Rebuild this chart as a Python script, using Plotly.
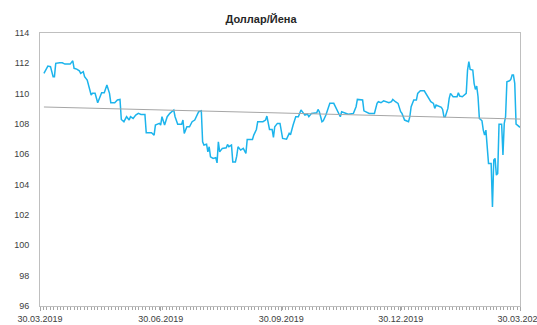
import numpy as np
import pandas as pd
import plotly.graph_objects as go

title = "Доллар/Йена"

dates = [
    "2019-04-02", "2019-04-04", "2019-04-05", "2019-04-07", "2019-04-09", "2019-04-10",
    "2019-04-11", "2019-04-14", "2019-04-16", "2019-04-18", "2019-04-22", "2019-04-24",
    "2019-04-25", "2019-04-27", "2019-04-29", "2019-04-30", "2019-05-02", "2019-05-03",
    "2019-05-05", "2019-05-07", "2019-05-08", "2019-05-09", "2019-05-11", "2019-05-13",
    "2019-05-14", "2019-05-16", "2019-05-18", "2019-05-20", "2019-05-22", "2019-05-23",
    "2019-05-26", "2019-05-28", "2019-05-30", "2019-05-31",
    "2019-06-02", "2019-06-04", "2019-06-06", "2019-06-07", "2019-06-09", "2019-06-11",
    "2019-06-13", "2019-06-15", "2019-06-18", "2019-06-19", "2019-06-23", "2019-06-25",
    "2019-06-26", "2019-06-29", "2019-06-30", "2019-07-01",
    "2019-07-03", "2019-07-05", "2019-07-07", "2019-07-09", "2019-07-10", "2019-07-11",
    "2019-07-13", "2019-07-16", "2019-07-17", "2019-07-18", "2019-07-20", "2019-07-22",
    "2019-07-24", "2019-07-26", "2019-07-28", "2019-07-29", "2019-07-31",
    "2019-08-01", "2019-08-02", "2019-08-04", "2019-08-05", "2019-08-06", "2019-08-07",
    "2019-08-09", "2019-08-11", "2019-08-12", "2019-08-13", "2019-08-14", "2019-08-16",
    "2019-08-19", "2019-08-20", "2019-08-21", "2019-08-23", "2019-08-24", "2019-08-26",
    "2019-08-27", "2019-08-28", "2019-08-30",
    "2019-09-01", "2019-09-03", "2019-09-04", "2019-09-08", "2019-09-09", "2019-09-11",
    "2019-09-12", "2019-09-16", "2019-09-18", "2019-09-19", "2019-09-21", "2019-09-23",
    "2019-09-24", "2019-09-25", "2019-09-27", "2019-09-29",
    "2019-10-01", "2019-10-04", "2019-10-06", "2019-10-07", "2019-10-09", "2019-10-11",
    "2019-10-13", "2019-10-15", "2019-10-17", "2019-10-18", "2019-10-20", "2019-10-21",
    "2019-10-23", "2019-10-27", "2019-10-28", "2019-10-29", "2019-10-31",
    "2019-11-01", "2019-11-03", "2019-11-05", "2019-11-06", "2019-11-09", "2019-11-10",
    "2019-11-12", "2019-11-14", "2019-11-15", "2019-11-17", "2019-11-20", "2019-11-24",
    "2019-11-26", "2019-11-27",
    "2019-12-01", "2019-12-02", "2019-12-04", "2019-12-06", "2019-12-10", "2019-12-12",
    "2019-12-13", "2019-12-15", "2019-12-17", "2019-12-19", "2019-12-21", "2019-12-23",
    "2019-12-24", "2019-12-26", "2019-12-28", "2019-12-30", "2019-12-31",
    "2020-01-02", "2020-01-05", "2020-01-06", "2020-01-07", "2020-01-09", "2020-01-11",
    "2020-01-12", "2020-01-14", "2020-01-17", "2020-01-20", "2020-01-22", "2020-01-24",
    "2020-01-25", "2020-01-26", "2020-01-29", "2020-01-30", "2020-01-31",
    "2020-02-01", "2020-02-02", "2020-02-04", "2020-02-05", "2020-02-06", "2020-02-08",
    "2020-02-11", "2020-02-12", "2020-02-13", "2020-02-15", "2020-02-17", "2020-02-18",
    "2020-02-19", "2020-02-20", "2020-02-21", "2020-02-23", "2020-02-24", "2020-02-25",
    "2020-02-26", "2020-02-27", "2020-02-28",
    "2020-03-01", "2020-03-02", "2020-03-03", "2020-03-04", "2020-03-05", "2020-03-06",
    "2020-03-08", "2020-03-09", "2020-03-10", "2020-03-11", "2020-03-12", "2020-03-13",
    "2020-03-14", "2020-03-16", "2020-03-17", "2020-03-18", "2020-03-19", "2020-03-20",
    "2020-03-22", "2020-03-23", "2020-03-24", "2020-03-25", "2020-03-26", "2020-03-27",
    "2020-03-28", "2020-03-29", "2020-03-30",
]

usd_jpy = [
    111.34, 111.74, 111.82, 111.78, 111.12, 111.12,
    112.00, 112.04, 112.04, 111.95, 111.95, 112.17,
    111.67, 111.62, 111.51, 111.34, 111.45, 111.12,
    110.90, 110.24, 109.91, 110.02, 110.02, 109.40,
    109.62, 110.06, 110.06, 110.57, 110.02, 109.40,
    109.40, 109.58, 109.62, 108.30,
    108.15, 108.48, 108.26, 108.48, 108.37, 108.59,
    108.70, 108.63, 108.63, 107.42, 107.42, 107.27,
    107.93, 108.04, 107.93, 108.48,
    107.93, 108.48, 108.70, 108.81, 108.92, 108.48,
    107.99, 107.99, 108.26, 107.38, 107.82, 107.82,
    108.15, 108.26, 108.70, 108.81, 108.87,
    106.82, 106.61, 106.67, 106.16, 106.50, 105.84,
    105.73, 105.78, 105.44, 106.82, 106.16, 106.39,
    106.43, 106.65, 106.50, 106.61, 105.50, 105.50,
    105.88, 106.50, 106.28,
    106.39, 106.06, 106.98, 106.98, 107.27, 107.64,
    108.15, 108.15, 108.26, 108.52, 107.64, 107.64,
    107.12, 107.82, 108.04, 108.04,
    107.05, 107.00, 107.38, 107.29, 107.93, 108.48,
    108.48, 108.92, 108.70, 108.59, 108.65, 108.48,
    108.70, 108.74, 108.96, 108.81, 108.15,
    108.21, 108.59, 109.03, 109.36, 109.36, 109.18,
    108.92, 108.48, 108.81, 108.74, 108.65, 108.70,
    109.14, 109.62,
    109.58, 108.87, 108.81, 108.70, 108.70, 109.36,
    109.47, 109.40, 109.53, 109.47, 109.40, 109.47,
    109.62, 109.47, 109.36, 108.81, 108.70,
    108.26, 108.15, 108.48, 109.14, 109.58, 109.58,
    110.02, 110.19, 110.19, 109.76, 109.47, 109.36,
    109.03, 109.25, 109.14, 109.10, 108.96,
    108.48, 108.48, 109.03, 109.69, 110.02, 109.80,
    109.80, 110.06, 109.84, 109.80, 109.91, 110.02,
    111.56, 112.11, 111.60, 111.56, 110.68, 110.28,
    110.50, 109.80, 108.37,
    108.21, 107.60, 107.27, 107.60, 106.50, 105.40,
    105.40, 102.53, 105.62, 105.73, 104.63, 104.74,
    107.99, 107.99, 105.95, 108.04, 108.48, 110.79,
    110.85, 110.94, 111.23, 111.23, 110.68, 107.99,
    107.93, 107.86, 107.78,
]

tick_dates = ["2019-03-30", "2019-06-30", "2019-09-30", "2019-12-30", "2020-03-30"]
tick_labels = ["30.03.2019", "30.06.2019", "30.09.2019", "30.12.2019", "30.03.2020"]

x = pd.to_datetime(dates)

# linear trend, as excel draws it
days = (x - x[0]).days.values
k, b = np.polyfit(days, usd_jpy, 1)
trend = k * days + b

fig = go.Figure()
fig.add_trace(
    go.Scatter(x=x, y=usd_jpy, mode="lines",
               line=dict(color="#1cb4ec", width=1.5), showlegend=False)
)
fig.add_trace(
    go.Scatter(x=[x[0], x[-1]], y=[trend[0], trend[-1]], mode="lines",
               line=dict(color="#a6a6a6", width=1), showlegend=False)
)

font = "Liberation Sans, Arial, sans-serif"
fig.update_layout(
    width=537,
    height=325,
    margin=dict(l=40, r=17, t=33, b=19),
    paper_bgcolor="white",
    plot_bgcolor="white",
    title=dict(text="<b>" + title + "</b>", x=0.486, xanchor="center", y=0.94,
               yanchor="middle", font=dict(family=font, size=11, color="#262626")),
    xaxis=dict(
        type="date",
        range=["2019-03-30", "2020-03-30"],
        tickmode="array",
        tickvals=tick_dates,
        ticktext=tick_labels,
        ticks="outside",
        ticklen=4,
        tickcolor="#a6a6a6",
        minor=dict(ticks="outside", ticklen=3, tickcolor="#a6a6a6",
                   dtick=86400000 * 2.6, tick0="2019-03-30"),
        showgrid=False,
        showline=True,
        linecolor="#bfbfbf",
        mirror=True,
        zeroline=False,
        automargin=False,
        ticklabeloverflow="allow",
        tickfont=dict(family=font, size=9, color="#404040"),
    ),
    yaxis=dict(
        range=[96, 114],
        dtick=2,
        ticks="",
        ticklabelstandoff=8,
        showgrid=False,
        showline=True,
        linecolor="#bfbfbf",
        mirror=True,
        zeroline=False,
        automargin=False,
        tickfont=dict(family=font, size=9, color="#404040"),
    ),
)

# page has a default body margin; drop it so the chart sits at 0,0
fig.write_html("out.html", config={"displayModeBar": False},
               post_script="document.body.style.margin='0';")
